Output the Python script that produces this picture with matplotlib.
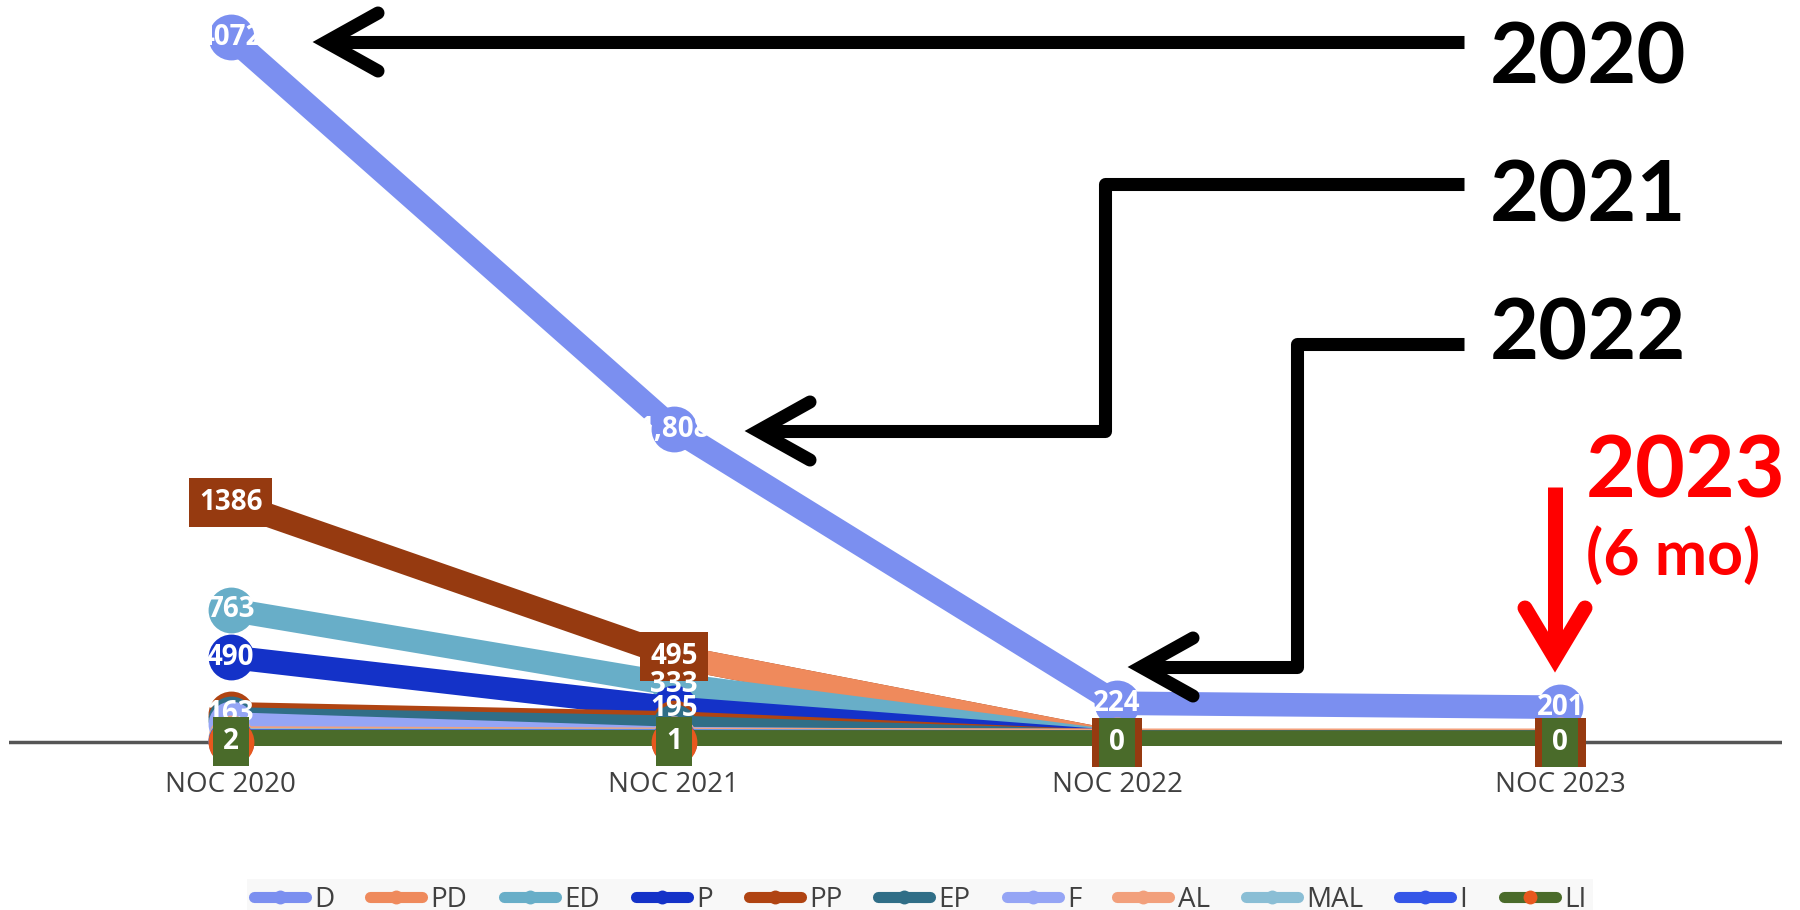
import numpy as np
import matplotlib.pyplot as plt
from matplotlib.lines import Line2D

categories = ['NOC 2020', 'NOC 2021', 'NOC 2022', 'NOC 2023']

# values (hidden ones estimated)
pp_total = [1386, 495, 0, 0]      # brown boxed series, no legend entry
d   = [4072, 1808, 224, 201]
pd_ = [np.nan, 495, 0, 0]
ed  = [763, 333, 0, 0]
p   = [490, 195, 0, 0]
pp  = [163, 110, 0, 0]
ep  = [133, 85, 0, 0]
f   = [104, 20, 0, 0]
al  = [23, 15, 10, 10]
mal = [12, 8, 0, 0]
i_  = [6, 4, 0, 0]
li  = [2, 1, 0, 0]

d_labels = ['4072', '1,808', '224', '201']

# name, values, line colour, marker colour
series = [
    ('_pp_total', pp_total, '#963A10', None),
    ('D',   d,   '#7B8FF0', '#7B8FF0'),
    ('PD',  pd_, '#EF8A5C', '#EF8A5C'),
    ('ED',  ed,  '#68AEC8', '#68AEC8'),
    ('P',   p,   '#1432C8', '#1432C8'),
    ('PP',  pp,  '#B04412', '#B04412'),
    ('EP',  ep,  '#306E87', '#306E87'),
    ('F',   f,   '#95A5F5', '#95A5F5'),
    ('AL',  al,  '#F2A07C', '#F2A07C'),
    ('MAL', mal, '#8ABED5', '#8ABED5'),
    ('I',   i_,  '#3556E8', '#3556E8'),
    ('LI',  li,  '#4A6B2A', '#E8581E'),
]

W, H = 1800, 910
fig = plt.figure(figsize=(W/100, H/100), dpi=100)
ax = fig.add_axes([9/W, 1-746/H, 1773/W, 746/H])
x = np.arange(len(categories))

ax.axhline(0, color='#555555', lw=2.5, zorder=1)

for k, (name, vals, col, mcol) in enumerate(series):
    z = 2 + k*0.02
    ax.plot(x, vals, color=col, lw=17, solid_capstyle='butt', zorder=z)
    if mcol is not None:
        ax.plot(x, vals, 'o', ms=33, mfc=mcol, mec='none', zorder=z+0.01, clip_on=False)

lab = dict(ha='center', va='center', color='white', fontsize=20,
           fontweight='bold', family='Open Sans', zorder=10)
box_pad = 'square,pad=0.36'

# data labels
for xi, v, t in zip(x, d, d_labels):
    ax.text(xi, v, t, **lab)
for xi, v in zip(x, pp_total):
    s = str(v) if v >= 10 else ' %d ' % v
    ax.text(xi, v, s, bbox=dict(boxstyle=box_pad, fc='#963A10', ec='none'), **lab)
for xi, v in zip(x[:2], ed[:2]):
    ax.text(xi, v, str(v), **lab)
for xi, v in zip(x[:2], p[:2]):
    ax.text(xi, v, str(v), **lab)
ax.text(x[0], pp[0], str(pp[0]), **lab)
for xi, v in zip(x, li):
    ax.text(xi, v, str(v), bbox=dict(boxstyle=box_pad, fc='#4A6B2A', ec='none'),
            **{**lab, 'zorder': 11})

ax.set_xlim(-0.5, 3.5)
ax.set_ylim(-23, 4286)
ax.set_xticks(x)
ax.set_xticklabels(categories, family='Open Sans', fontsize=20, color='#404040')
ax.tick_params(axis='x', length=0, pad=18)
ax.set_yticks([])
for s in ax.spines.values():
    s.set_visible(False)
ax.patch.set_alpha(0)

handles = []
names = []
for name, vals, col, mcol in series[1:]:
    handles.append(Line2D([0], [0], color=col, lw=8, solid_capstyle='round',
                          marker='o', ms=10, mfc=mcol, mec='none'))
    names.append(name)
ax.legend(handles, names, loc='upper center', bbox_to_anchor=(920/W, 1-879/H),
          bbox_transform=fig.transFigure, ncol=11, fancybox=False,
          facecolor='#F8F8F8', edgecolor='none', framealpha=1, borderpad=0.25,
          borderaxespad=0, handlelength=1.87, handletextpad=0.3, columnspacing=1.3,
          prop={'family': 'Open Sans', 'size': 20}, labelcolor='#404040')

# annotation layer in pixel coordinates
ov = fig.add_axes([0, 0, 1, 1], facecolor='none')
ov.set_xlim(0, W)
ov.set_ylim(H, 0)
ov.axis('off')

blk = dict(color='black', lw=9.4)
ov.plot([1464, 326], [42, 42], solid_capstyle='butt', **blk)
ov.plot([378, 326, 378], [13, 42, 71], solid_capstyle='round', solid_joinstyle='miter', **blk)

ov.plot([1464, 1105, 1105, 758], [184, 184, 431, 431], solid_capstyle='butt', solid_joinstyle='round', **blk)
ov.plot([810, 758, 810], [402, 431, 460], solid_capstyle='round', solid_joinstyle='miter', **blk)

ov.plot([1464, 1297, 1297, 1141], [344, 344, 667, 667], solid_capstyle='butt', solid_joinstyle='round', **blk)
ov.plot([1193, 1141, 1193], [638, 667, 696], solid_capstyle='round', solid_joinstyle='miter', **blk)

ov.plot([1555, 1555], [487, 658], color='red', lw=10.8, solid_capstyle='butt')
ov.plot([1525, 1555, 1585], [608, 658, 608], color='red', lw=10.8,
        solid_capstyle='round', solid_joinstyle='miter')

big = dict(fontsize=61, fontweight='bold', family='Lato', va='baseline', ha='left')
ov.text(1490, 83, '2020', color='black', **big)
ov.text(1490, 222, '2021', color='black', **big)
ov.text(1490, 360, '2022', color='black', **big)
ov.text(1586, 497, '2023', color='red', **{**big, 'fontsize': 62})
ov.text(1586, 575, '(6 mo)', color='red', **{**big, 'fontsize': 45})

fig.savefig('out.png', dpi=100)
